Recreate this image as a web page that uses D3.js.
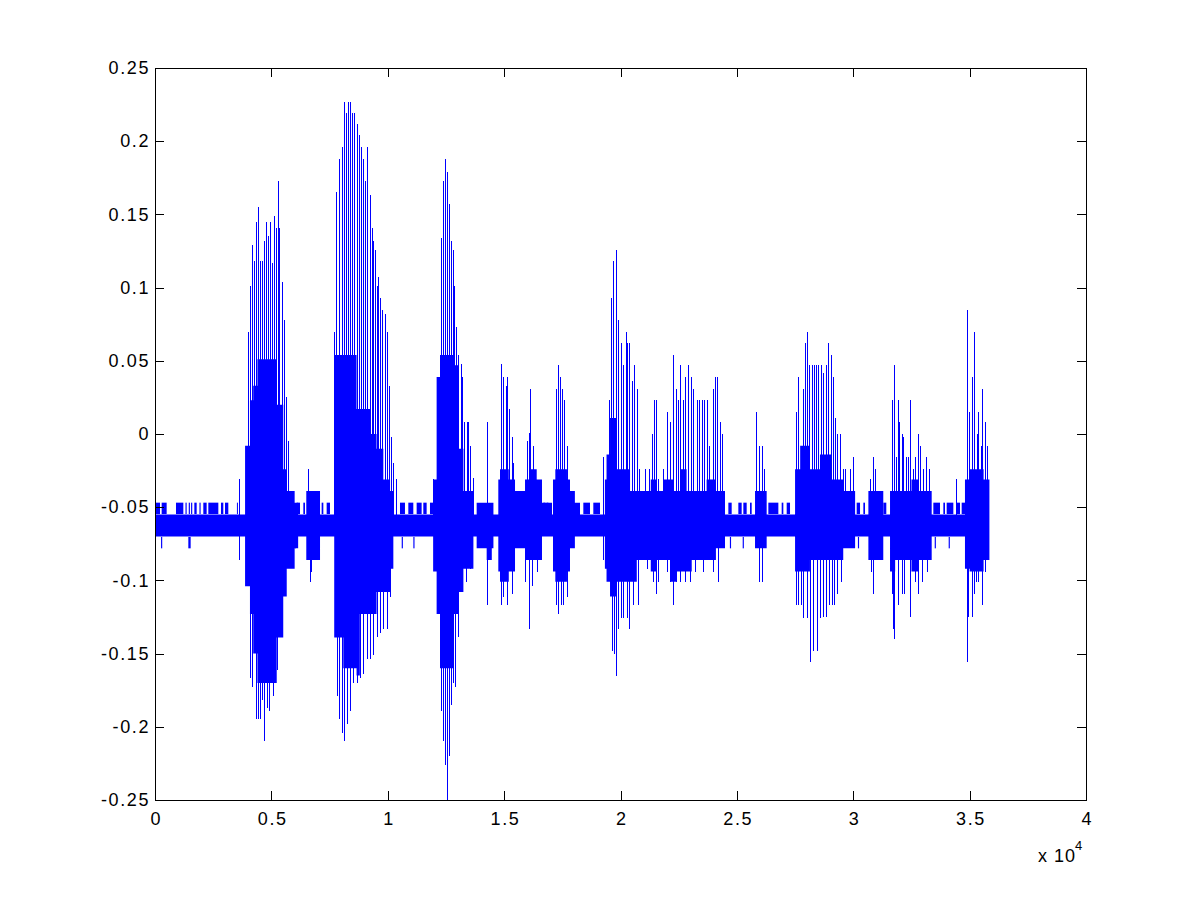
<!DOCTYPE html>
<html>
<head>
<title>Waveform</title>
<script src="https://d3js.org/d3.v7.min.js"></script>
<style>
	body{margin:0;background:#fff;}
	svg{display:block;}
	text{font-family:Arial,"Liberation Sans",Helvetica,sans-serif;font-size:18px;fill:#000;}
</style>
</head>
<body>
<script>
// ticks
var xTicks = [0, 5000, 10000, 15000, 20000, 25000, 30000, 35000, 40000]
var xTickLabels = ['0', '0.5', '1', '1.5', '2', '2.5', '3', '3.5', '4']
var yTicks = [-0.25, -0.2, -0.15, -0.1, -0.05, 0, 0.05, 0.1, 0.15, 0.2, 0.25]
var yTickLabels = ['-0.25', '-0.2', '-0.15', '-0.1', '-0.05', '0', '0.05', '0.1', '0.15', '0.2', '0.25']

// dense part of the signal (sample index, upper and lower edge, step after)
var coreX  = [0, 3870, 4080, 4220, 4400, 5230, 5510, 5660, 6000, 6150, 6500, 7090, 7700, 8090, 8660, 8800, 9240, 9520, 9810, 10100, 10240,
	11950, 12100, 12245, 12820, 13030, 13250, 13680, 13820, 14250, 14470, 14540,
	14750, 14823, 15200, 15468, 15898, 16100, 16400, 16627, 17057, 17100, 17200, 17700, 17830, 18040, 18260,
	19330, 19400, 19550, 19830, 20410, 20700, 21300, 21560, 21840, 22130, 22270, 22420, 22560, 22840, 23060, 23700, 24100, 24490, 25780, 26280,
	27500, 27720, 28140, 28570, 29070, 29570, 30080, 30650, 31290, 31580, 31800, 32500, 32800, 33370, 34800, 35000, 35600, 35850]
var coreHi = [-0.055, -0.008, 0.023, 0.033, 0.051, 0.020, -0.024, -0.039, -0.047, -0.055, -0.039, -0.055, 0.054, 0.054, 0.017, 0.017, 0.000, -0.010, -0.031, -0.039, -0.055,
	-0.031, 0.039, 0.054, 0.047, -0.010, -0.039, -0.055, -0.047, -0.047, -0.047, -0.055,
	-0.031, -0.024, -0.031, -0.039, -0.031, -0.024, -0.031, -0.047, -0.055, -0.031, -0.024, -0.031, -0.039, -0.047, -0.055,
	-0.031, -0.014, 0.011, -0.024, -0.039, -0.039, -0.031, -0.039, -0.031, -0.031, -0.039, -0.039, -0.024, -0.039, -0.039, -0.031, -0.039, -0.055, -0.039, -0.055,
	-0.024, -0.008, -0.024, -0.014, -0.031, -0.039, -0.055, -0.039, -0.055, -0.039, -0.039, -0.031, -0.039, -0.055, -0.031, -0.024, -0.031, -0.031]
var coreLo = [-0.070, -0.104, -0.123, -0.150, -0.170, -0.139, -0.111, -0.092, -0.078, -0.070, -0.086, -0.070, -0.139, -0.160, -0.165, -0.123, -0.123, -0.108, -0.108, -0.092, -0.070,
	-0.094, -0.123, -0.160, -0.123, -0.108, -0.092, -0.070, -0.078, -0.086, -0.078, -0.070,
	-0.094, -0.101, -0.094, -0.078, -0.086, -0.086, -0.086, -0.070, -0.070, -0.094, -0.101, -0.094, -0.078, -0.070, -0.070,
	-0.092, -0.101, -0.111, -0.101, -0.101, -0.086, -0.094, -0.086, -0.086, -0.101, -0.101, -0.094, -0.094, -0.094, -0.086, -0.086, -0.078, -0.070, -0.078, -0.070,
	-0.094, -0.094, -0.086, -0.086, -0.086, -0.078, -0.070, -0.086, -0.070, -0.094, -0.086, -0.094, -0.086, -0.070, -0.092, -0.094, -0.086, -0.086]

// upward peaks
var upX = [3623, 3981, 4081, 4153, 4267, 4339, 4439, 4511, 4611, 4697, 4768, 4869, 4940, 5026, 5112, 5198, 5270, 5341, 5441, 5541, 5628, 5728,
	6588, 7705, 7776, 7919, 8020, 8120, 8206, 8306, 8378, 8464, 8564, 8664, 8764, 8850, 8950, 9036, 9122, 9237, 9308, 9380, 9452, 9523, 9595, 9681, 9766, 9881, 9981, 10053, 10139, 10239, 10354,
	11958, 12273, 12359, 12459, 12560, 12646, 12703, 12789, 12846, 12932, 13032, 13132, 13204, 13290, 13390, 13462, 13533, 13648,
	14249, 14865, 14965, 15066, 15137, 15223, 15323, 15395, 15968, 16068, 16111, 16254, 17214, 17328, 17400, 17500, 17586, 17686, 17830,
	19262, 19505, 19591, 19692, 19806, 19906, 20021, 20121, 20221, 20293, 20379, 20479, 20579, 20694, 20794,
	21052, 21238, 21338, 21439, 21525, 21625, 21840, 22011, 22126, 22269, 22384, 22484, 22556, 22670, 22770, 22914, 23028, 23128, 23272, 23386, 23486, 23601, 23701, 23801, 23959, 24061, 24161, 24276, 24347,
	25822, 25951, 26066, 26180,
	27541, 27641, 27741, 27827, 27927, 28027, 28113, 28214, 28314, 28400, 28500, 28600, 28715, 28815, 28929, 29030, 29116, 29216, 29316, 29431, 29546, 29646, 29746, 29861, 29975,
	30720, 30863, 30935, 31651, 31766, 31837, 31909, 31980, 32081, 32153, 32267, 32367, 32439, 32553, 32653, 32768, 32868, 32983, 33126, 33269, 34415,
	34902, 34987, 35088, 35203, 35303, 35375, 35475, 35546, 35661, 35733, 35804]
var upV = [-0.031, 0.070, 0.101, 0.129, 0.118, 0.145, 0.155, 0.118, 0.118, 0.132, 0.145, 0.135, 0.145, 0.117, 0.149, 0.141, 0.173, 0.141, 0.104, 0.078, 0.025, -0.005,
	-0.024, 0.070, 0.165, 0.188, 0.196, 0.227, 0.219, 0.227, 0.227, 0.219, 0.219, 0.212, 0.204, 0.196, 0.188, 0.173, 0.196, 0.163, 0.141, 0.132, 0.126, 0.101, 0.107, 0.093, 0.085, 0.082, 0.070, 0.033, -0.002, -0.020, -0.031,
	-0.031, 0.134, 0.173, 0.188, 0.179, 0.157, 0.132, 0.126, 0.101, 0.073, 0.054, 0.048, 0.039, 0.008, 0.008, 0.008, -0.008, -0.030,
	0.008, 0.048, 0.039, 0.033, 0.039, 0.017, -0.002, -0.020, -0.005, 0.001, 0.031, -0.008, 0.031, 0.047, 0.039, 0.031, 0.023, -0.008, -0.039,
	-0.016, 0.023, 0.093, 0.118, 0.126, 0.078, 0.062, 0.047, 0.070, 0.062, 0.062, 0.036, 0.047, 0.031, -0.024,
	-0.024, -0.024, 0.000, 0.023, 0.023, -0.031, -0.024, 0.015, 0.008, 0.054, 0.031, 0.023, 0.047, 0.023, 0.039, 0.047, 0.039, 0.031, 0.023, 0.023, 0.023, 0.023, 0.023, -0.008, 0.031, 0.039, 0.039, 0.008, 0.000,
	0.015, -0.008, -0.008, -0.024,
	0.015, 0.039, -0.008, 0.031, 0.062, 0.070, 0.047, 0.047, 0.047, 0.047, 0.047, 0.047, 0.042, 0.047, 0.062, 0.054, 0.039, 0.011, 0.000, 0.000, -0.024, -0.024, -0.039, -0.024, -0.016,
	-0.031, -0.016, -0.024, 0.023, 0.047, -0.016, 0.023, 0.008, 0.000, -0.002, -0.016, -0.016, 0.023, -0.024, -0.016, 0.000, -0.008, -0.024, -0.016, -0.024, -0.031,
	0.085, 0.015, 0.039, 0.070, 0.000, 0.015, -0.008, 0.031, 0.008, -0.008, -0.039]

// downward peaks
var dnX = [3623, 4081, 4153, 4339, 4439, 4511, 4611, 4697, 4797, 4912, 5084, 5227, 5441, 5584, 5728,
	6659, 6700, 7805, 7919, 8020, 8120, 8234, 8378, 8521, 8664, 8807, 8950, 9094, 9237, 9380, 9523, 9666, 9810, 9953, 10096,
	12273, 12359, 12459, 12560, 12646, 12703, 12789, 12889, 13032, 13175, 13362, 13533,
	14249, 14865, 14965, 15137, 15323, 15896, 16068, 16183, 16398, 17214, 17328, 17428, 17543, 17686,
	19262, 19620, 19720, 19806, 19906, 20007, 20121, 20264, 20379, 20551, 20737,
	21124, 21410, 21525, 21625, 21983, 22126, 22269, 22384, 22556, 22770, 22985, 23200, 23558, 23959, 24204,
	25951, 26066,
	27541, 27641, 27741, 27856, 27999, 28142, 28285, 28428, 28572, 28715, 28829, 28972, 29073, 29173, 29288, 29460,
	30749, 30863, 31651, 31694, 31766, 31938, 32081, 32195, 32439, 32653, 32797, 32940, 33155,
	34902, 34945, 35088, 35188, 35274, 35375, 35518, 35661]
var dnV = [-0.086, -0.167, -0.173, -0.195, -0.195, -0.195, -0.182, -0.210, -0.187, -0.189, -0.179, -0.161, -0.139, -0.104, -0.086,
	-0.101, -0.094, -0.179, -0.195, -0.204, -0.210, -0.198, -0.189, -0.170, -0.170, -0.167, -0.164, -0.154, -0.154, -0.151, -0.139, -0.136, -0.133, -0.133, -0.111,
	-0.189, -0.210, -0.226, -0.250, -0.220, -0.185, -0.170, -0.173, -0.139, -0.108, -0.101, -0.092,
	-0.117, -0.117, -0.111, -0.117, -0.109, -0.101, -0.133, -0.104, -0.094, -0.117, -0.123, -0.117, -0.117, -0.111,
	-0.086, -0.148, -0.150, -0.165, -0.133, -0.126, -0.126, -0.126, -0.133, -0.117, -0.117,
	-0.092, -0.101, -0.109, -0.101, -0.094, -0.101, -0.117, -0.101, -0.101, -0.101, -0.101, -0.094, -0.094, -0.094, -0.101,
	-0.101, -0.101,
	-0.117, -0.117, -0.117, -0.126, -0.126, -0.156, -0.148, -0.148, -0.126, -0.125, -0.125, -0.117, -0.117, -0.117, -0.109, -0.101,
	-0.094, -0.109, -0.109, -0.133, -0.140, -0.117, -0.109, -0.109, -0.125, -0.101, -0.109, -0.101, -0.094,
	-0.156, -0.125, -0.125, -0.109, -0.101, -0.101, -0.117, -0.094]

// background noise reaching one step above / below the quiet band
var noiseUp = [[43, 215], [286, 501], [902, 1217], [1310, 1360], [1450, 1500], [1550, 1600], [1690, 1790], [1910, 1960], [2076, 2219],
	[2291, 2721], [2835, 2935], [3007, 3150], [3520, 3560], [5872, 5943], [6086, 6230], [6373, 6444], [7160, 7232], [7375, 7518],
	[10526, 10740], [10884, 11098], [11242, 11456], [11528, 11671], [11814, 11950], [16684, 16770], [16827, 16900],
	[18403, 18689], [18832, 19119], [24634, 24777], [25063, 25206], [25278, 25421], [25564, 25636], [26352, 26782],
	[26925, 26996], [27140, 27283], [30147, 30291], [30434, 30505], [31293, 31420], [33441, 33727], [33871, 33942],
	[34014, 34300], [34443, 34587], [34658, 34801]]
var noiseDn = [[260, 310], [1432, 1532], [6000, 6050], [10600, 10650], [11100, 11150], [24700, 24750], [25250, 25300],
	[30200, 30250], [33500, 33550], [34100, 34150]]

var quietTop = -0.0547, quietBottom = -0.0703, quietMid = -0.0625
var step = 0.0078

var margin = {left: 155, right: 114, top: 68, bottom: 100}
var W = 1200, H = 900
var width = W - margin.left - margin.right
var height = H - margin.top - margin.bottom
var blue = '#0000ff'
var labelFont = {size: '18px', spacing: '1.6px'}

var svg = d3.select('body').append('svg')
	.attr('width', W)
	.attr('height', H)

var x = d3.scaleLinear().domain([0, 40000]).range([0, width])
var y = d3.scaleLinear().domain([-0.25, 0.25]).range([height, 0])

var g = svg.append('g')
	.attr('transform', 'translate(' + margin.left + ',' + margin.top + ')')

svg.append('defs').append('clipPath').attr('id', 'clip')
	.append('rect').attr('width', width).attr('height', height + 1)

var plot = g.append('g').attr('clip-path', 'url(#clip)')

// noise flicks
plot.selectAll('rect.nu').data(noiseUp).enter().append('rect')
	.attr('class', 'nu')
	.attr('x', d => x(d[0]))
	.attr('width', d => Math.max(1, x(d[1]) - x(d[0])))
	.attr('y', y(quietTop + step))
	.attr('height', y(quietTop) - y(quietTop + step))
	.attr('fill', blue)
plot.selectAll('rect.nd').data(noiseDn).enter().append('rect')
	.attr('class', 'nd')
	.attr('x', d => x(d[0]))
	.attr('width', d => Math.max(1, x(d[1]) - x(d[0])))
	.attr('y', y(quietBottom))
	.attr('height', y(quietBottom - step) - y(quietBottom))
	.attr('fill', blue)

// dense core
var core = coreX.map((s, i) => ({s: s, hi: coreHi[i], lo: coreLo[i]}))
var area = d3.area()
	.x(d => x(d.s))
	.y0(d => y(d.lo))
	.y1(d => y(d.hi))
	.curve(d3.curveStepAfter)
plot.append('path')
	.datum(core)
	.attr('d', area)
	.attr('fill', blue)

// peaks
var peaks = upX.map((s, i) => ({s: s, v: upV[i]}))
	.concat(dnX.map((s, i) => ({s: s, v: dnV[i]})))
plot.selectAll('line.pk').data(peaks).enter().append('line')
	.attr('class', 'pk')
	.attr('x1', d => Math.round(x(d.s)) + 0.5)
	.attr('x2', d => Math.round(x(d.s)) + 0.5)
	.attr('y1', y(quietMid))
	.attr('y2', d => y(d.v))
	.attr('stroke', blue)
	.attr('stroke-width', 1)
	.attr('shape-rendering', 'crispEdges')

// axes, matlab style: inward ticks on all four sides
var tickLen = 9
var xAxis = d3.axisBottom(x).tickValues(xTicks).tickFormat((d, i) => xTickLabels[i])
	.tickSizeInner(-tickLen).tickSizeOuter(0).tickPadding(12)
var yAxis = d3.axisLeft(y).tickValues(yTicks).tickFormat((d, i) => yTickLabels[i])
	.tickSizeInner(-tickLen).tickSizeOuter(0).tickPadding(5)

var gx = g.append('g').attr('transform', 'translate(0,' + height + ')').call(xAxis)
var gy = g.append('g').call(yAxis)
var gx2 = g.append('g').call(d3.axisTop(x).tickValues(xTicks).tickFormat('').tickSizeInner(-tickLen).tickSizeOuter(0))
var gy2 = g.append('g').attr('transform', 'translate(' + width + ',0)')
	.call(d3.axisRight(y).tickValues(yTicks).tickFormat('').tickSizeInner(-tickLen).tickSizeOuter(0))

;[gx, gy, gx2, gy2].forEach(a => {
	a.select('.domain').remove()
	a.selectAll('text')
		.style('font-size', labelFont.size)
		.style('letter-spacing', labelFont.spacing)
		.style('font-family', 'Arial, "Liberation Sans", sans-serif')
	a.selectAll('line').attr('stroke', '#000').attr('shape-rendering', 'crispEdges')
})
// letter spacing also trails the last glyph; shift centred x labels back
gx.selectAll('text').attr('dx', '0.8px')

g.append('rect')
	.attr('x', 0.5).attr('y', 0.5)
	.attr('width', width).attr('height', height)
	.attr('fill', 'none')
	.attr('stroke', '#000')
	.attr('shape-rendering', 'crispEdges')

// exponent label
var expo = svg.append('text')
	.attr('x', 1038)
	.attr('y', 862)
	.style('letter-spacing', '1px')
expo.append('tspan').text('x 10')
expo.append('tspan').attr('dy', -12).attr('dx', -1).style('font-size', '13px').text('4')
</script>
</body>
</html>
